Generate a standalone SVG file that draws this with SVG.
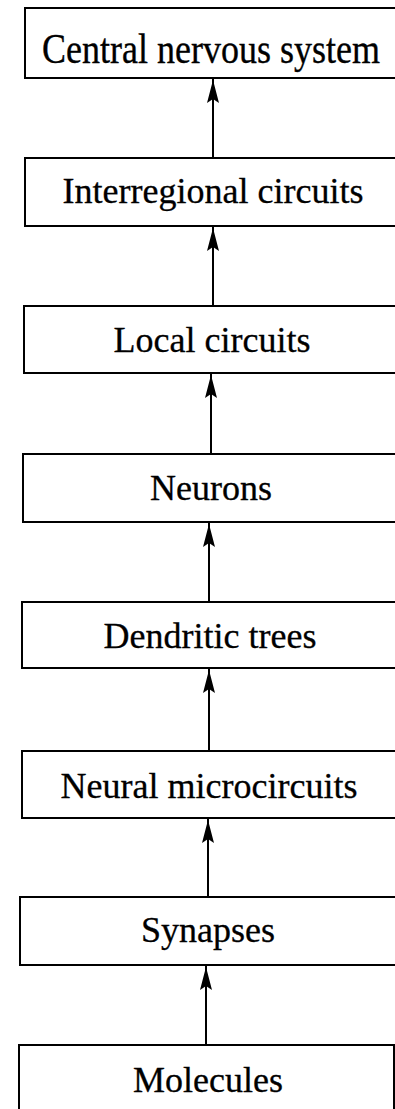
<svg xmlns="http://www.w3.org/2000/svg" width="395" height="1109" viewBox="0 0 395 1109">
<style>
.box{fill:#fff;stroke:#000;stroke-width:2}
.lbl{font-family:"Liberation Serif","Times New Roman",serif;font-size:36px;fill:#000;stroke:#000;stroke-width:0.3;text-anchor:middle}
.conn{fill:none;stroke:#000;stroke-width:2;marker-end:url(#ah)}
</style>
<defs>
<marker id="ah" markerUnits="userSpaceOnUse" markerWidth="30" markerHeight="14" refX="25" refY="7" orient="auto" overflow="visible">
<path d="M23,7 L0,1 L4,7 L0,13 Z" fill="#000"/>
</marker>
</defs>
<rect width="395" height="1109" fill="#fff"/>
<g id="connectors">
<path class="conn" d="M213,158 V78"/>
<path class="conn" d="M213,306 V226"/>
<path class="conn" d="M211,454 V373"/>
<path class="conn" d="M209,602 V522"/>
<path class="conn" d="M209,751 V668"/>
<path class="conn" d="M208,897 V818"/>
<path class="conn" d="M206,1045 V965"/>
</g>
<g id="cns"><rect class="box" x="25" y="8" width="380" height="70"/><text class="lbl" transform="translate(211,63) scale(1,1.2)" x="0" y="0">Central nervous system</text></g>
<g id="interregional"><rect class="box" x="25" y="158" width="380" height="68"/><text class="lbl" x="213" y="203">Interregional circuits</text></g>
<g id="local"><rect class="box" x="24" y="306" width="380" height="67"/><text class="lbl" x="212" y="352">Local circuits</text></g>
<g id="neurons"><rect class="box" x="23" y="454" width="380" height="68"/><text class="lbl" x="211" y="500">Neurons</text></g>
<g id="dendritic"><rect class="box" x="22" y="602" width="380" height="66"/><text class="lbl" x="210" y="648">Dendritic trees</text></g>
<g id="microcircuits"><rect class="box" x="22" y="751" width="380" height="67"/><text class="lbl" x="209" y="798">Neural microcircuits</text></g>
<g id="synapses"><rect class="box" x="20" y="897" width="380" height="68"/><text class="lbl" x="208" y="942">Synapses</text></g>
<g id="molecules"><rect class="box" x="19" y="1045" width="375" height="80"/><text class="lbl" x="208" y="1092">Molecules</text></g>
</svg>
